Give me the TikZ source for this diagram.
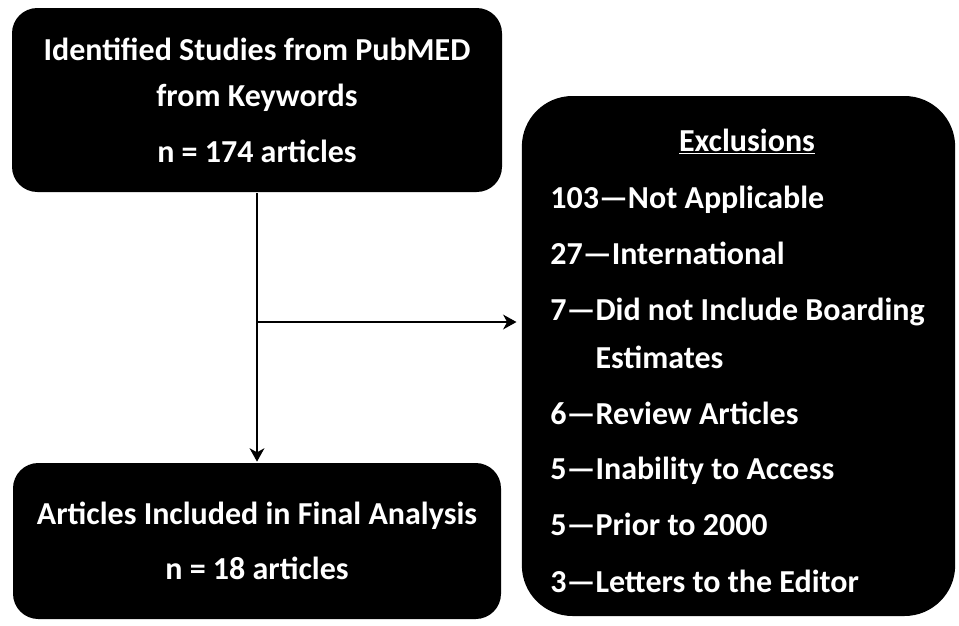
\documentclass[tikz,border=0pt]{standalone}
\usepackage{fontspec}
\setmainfont{Carlito}
\usetikzlibrary{arrows.meta,positioning}

\begin{document}
\begin{tikzpicture}
[
                  x =  0.75pt,
                  y = -0.75pt,
           ->, >= {Stealth[length=10pt,width=11pt,inset=3pt]},
         line width = 2pt,
        box/.style  = { draw=none, fill=black, rectangle, rounded corners=19pt, inner sep=0pt },
   bigbox/.style    = { box, rounded corners=38pt },
    label/.style    = { draw=none, fill=none, text=white, anchor=base west, inner sep=0pt, font=\fontsize{24}{28}\selectfont\bfseries },
 toplabel/.style    = { label, anchor=base }
]

    \useasboundingbox (0,0) rectangle (959,625);

    \node (SearchBox)     at (257, 100)   [box, minimum width=367.5pt, minimum height=138pt] {};
    \node (ResultBox)     at (257, 541)   [box, minimum width=366pt, minimum height=117pt] {};
    \node (Exclusions)    at (738.5, 356) [bigbox, minimum width=325pt, minimum height=390pt] {};

    \coordinate (Split) at (257, 322);

    \draw (SearchBox.south) -> (ResultBox.north);
    \draw (Split) -> ([xshift=-3pt]Split -| Exclusions.west);

    \node (SearchLabelA)  at (257, 60)    [toplabel] {Identified Studies from PubMED};
    \node (SearchLabelB)  at (257, 106)   [toplabel] {from Keywords};
    \node (SearchLabelC)  at (257, 162)   [toplabel] {n = 174 articles};

    \node (ResultLabelA)  at (257, 524)   [toplabel] {Articles Included in Final Analysis};
    \node (ResultLabelB)  at (257, 579)   [toplabel] {n = 18 articles};

    \node (ExclusionsLabel) at (747, 151) [toplabel] {\underline{Exclusions}};
    \node (NotApplicable) at (549, 208.5) [label] {103—Not Applicable};
    \node (International) at (549, 264)   [label] {27—International};
    \node (NoBoarding)    at (549, 320)   [label] {7—Did not Include Boarding};
    \node (NoBoardingB)   at (549, 368)   [label] {\hphantom{7—}Estimates};
    \node (Reviews)       at (549, 424)   [label] {6—Review Articles};
    \node (NoAccess)      at (549, 479)   [label] {5—Inability to Access};
    \node (Before2000)    at (549, 535)   [label] {5—Prior to 2000};
    \node (Letters)       at (549, 592)   [label] {3—Letters to the Editor};

\end{tikzpicture}
\end{document}
